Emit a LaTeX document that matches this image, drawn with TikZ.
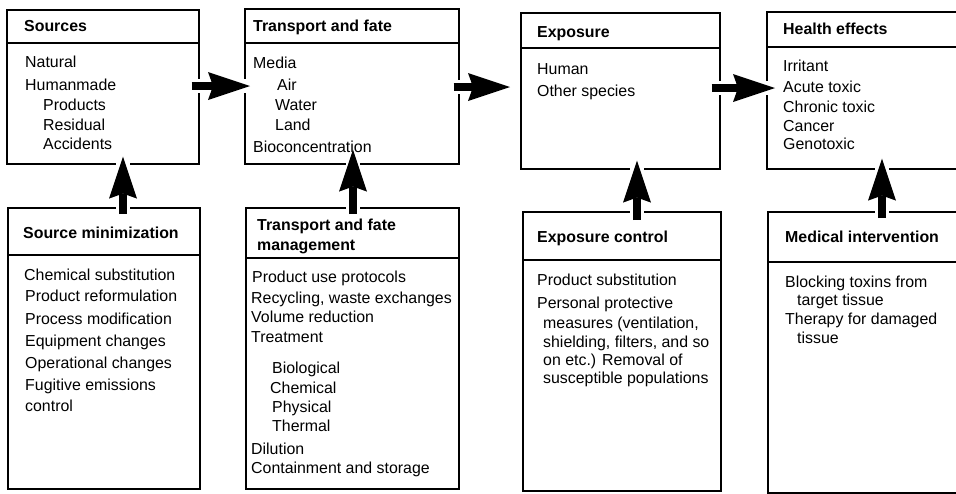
\documentclass[tikz,border=0pt]{standalone}
\usepackage{fontspec}
\setmainfont{Liberation Sans}
\usetikzlibrary{arrows.meta}
\begin{document}
\begin{tikzpicture}[x=1pt,y=-1pt,
  box/.style={draw, line width=1.6pt, rectangle, anchor=north west, inner sep=0pt},
  rule/.style={line width=1.6pt},
  item/.style={anchor=base west, inner sep=0pt, font=\fontsize{15.9}{18}\selectfont},
  title/.style={item, font=\fontsize{15.9}{18}\selectfont\bfseries},
  bigarrow/.style={line width=8pt,
    -{Stealth[length=42pt,width=28pt,inset=5pt,line width=0pt]},
    preaction={draw=white, line width=14pt, -}}
]
\useasboundingbox (0,0) rectangle (956,493);
\clip (0,0) rectangle (956,493);

% upper row: the chain from source to effect
\node[box, minimum width=192pt, minimum height=154pt] (src) at (6,9) {};
\node[box, minimum width=214pt, minimum height=155pt] (tf)  at (244,8) {};
\node[box, minimum width=199pt, minimum height=156pt] (exp) at (520,12) {};
\node[box, minimum width=220pt, minimum height=157pt] (he)  at (766,11) {};
% lower row: the controls acting on each stage
\node[box, minimum width=192pt, minimum height=281pt] (sm)  at (7,207) {};
\node[box, minimum width=213pt, minimum height=281pt] (tfm) at (245,207) {};
\node[box, minimum width=198pt, minimum height=279pt] (ec)  at (522,211) {};
\node[box, minimum width=220pt, minimum height=281pt] (mi)  at (767,211) {};

% header separators
\draw[rule] (src.west |- 0,43)  -- (src.east |- 0,43);
\draw[rule] (tf.west |- 0,43)   -- (tf.east |- 0,43);
\draw[rule] (exp.west |- 0,48)  -- (exp.east |- 0,48);
\draw[rule] (he.west |- 0,47)   -- (he.east |- 0,47);
\draw[rule] (sm.west |- 0,255)  -- (sm.east |- 0,255);
\draw[rule] (tfm.west |- 0,258) -- (tfm.east |- 0,258);
\draw[rule] (ec.west |- 0,260)  -- (ec.east |- 0,260);
\draw[rule] (mi.west |- 0,262)  -- (mi.east |- 0,262);

% flow along the upper row
\draw[bigarrow, shorten <=-8pt, shorten >=-6pt] (src.east |- 0,86) -- (tf.west |- 0,86);
\draw[bigarrow, shorten <=-6pt, shorten >=10pt] (tf.east |- 0,87) -- (exp.west |- 0,87);
\draw[bigarrow, shorten <=-9pt, shorten >=-9pt] (exp.east |- 0,88) -- (he.west |- 0,88);
% controls pushing up into each stage
\draw[bigarrow, shorten <=-7pt, shorten >=-8pt]  (sm.north -| 123,0)  -- (src.south -| 123,0);
\draw[bigarrow, shorten <=-7pt, shorten >=-15pt] (tfm.north -| 353,0) -- (tf.south -| 353,0);
\draw[bigarrow, shorten <=-9pt, shorten >=-9pt]  (ec.north -| 637,0)  -- (exp.south -| 637,0);
\draw[bigarrow, shorten <=-7pt, shorten >=-11pt] (mi.north -| 882,0)  -- (he.south -| 882,0);

% titles
\node[title] (src-t) at (24,31) {Sources};
\node[title] (tf-t) at (253,31) {Transport and fate};
\node[title] (exp-t) at (537,37) {Exposure};
\node[title] (he-t) at (783,34) {Health effects};
\node[title] (sm-t) at (23,238) {Source minimization};
\node[title] (tfm-t1) at (257,230) {Transport and fate};
\node[title] (tfm-t2) at (257,250) {management};
\node[title] (ec-t) at (537,242) {Exposure control};
\node[title] (mi-t) at (785,242) {Medical intervention};

% body texts
\foreach \t/\x/\y [count=\i] in {{Natural}/25/67, {Humanmade}/25/90, {Products}/43/110,
    {Residual}/43/130, {Accidents}/43/149}
  \node[item] (src-\i) at (\x,\y) {\t};
\foreach \t/\x/\y [count=\i] in {{Media}/253/68, {Air}/277/90, {Water}/275/110,
    {Land}/275/130, {Bioconcentration}/253/152}
  \node[item] (tf-\i) at (\x,\y) {\t};
\foreach \t/\x/\y [count=\i] in {{Human}/537/74, {Other species}/537/96}
  \node[item] (exp-\i) at (\x,\y) {\t};
\foreach \t/\x/\y [count=\i] in {{Irritant}/783/71, {Acute toxic}/783/92,
    {Chronic toxic}/783/112, {Cancer}/783/131, {Genotoxic}/783/149}
  \node[item] (he-\i) at (\x,\y) {\t};
\foreach \t/\x/\y [count=\i] in {{Chemical substitution}/24/280,
    {Product reformulation}/25/301, {Process modification}/25/324,
    {Equipment changes}/25/346, {Operational changes}/25/368,
    {Fugitive emissions}/25/390, {control}/25/411}
  \node[item] (sm-\i) at (\x,\y) {\t};
\foreach \t/\x/\y [count=\i] in {{Product use protocols}/252/282,
    {Recycling, waste exchanges}/251/303, {Volume reduction}/251/322,
    {Treatment}/251/342, {Biological}/272/373, {Chemical}/270/393,
    {Physical}/272/412, {Thermal}/272/431, {Dilution}/251/454,
    {Containment and storage}/251/473}
  \node[item] (tfm-\i) at (\x,\y) {\t};
\foreach \t/\x/\y [count=\i] in {{Product substitution}/537/285,
    {Personal protective}/537/308, {measures (ventilation,}/543/328,
    {shielding, filters, and so}/543/347, {on etc.) Removal of}/543/365,
    {susceptible populations}/543/383}
  \node[item] (ec-\i) at (\x,\y) {\t};
\foreach \t/\x/\y [count=\i] in {{Blocking toxins from}/785/287,
    {target tissue}/797/305, {Therapy for damaged}/785/324, {tissue}/797/343}
  \node[item] (mi-\i) at (\x,\y) {\t};
\end{tikzpicture}
\end{document}
